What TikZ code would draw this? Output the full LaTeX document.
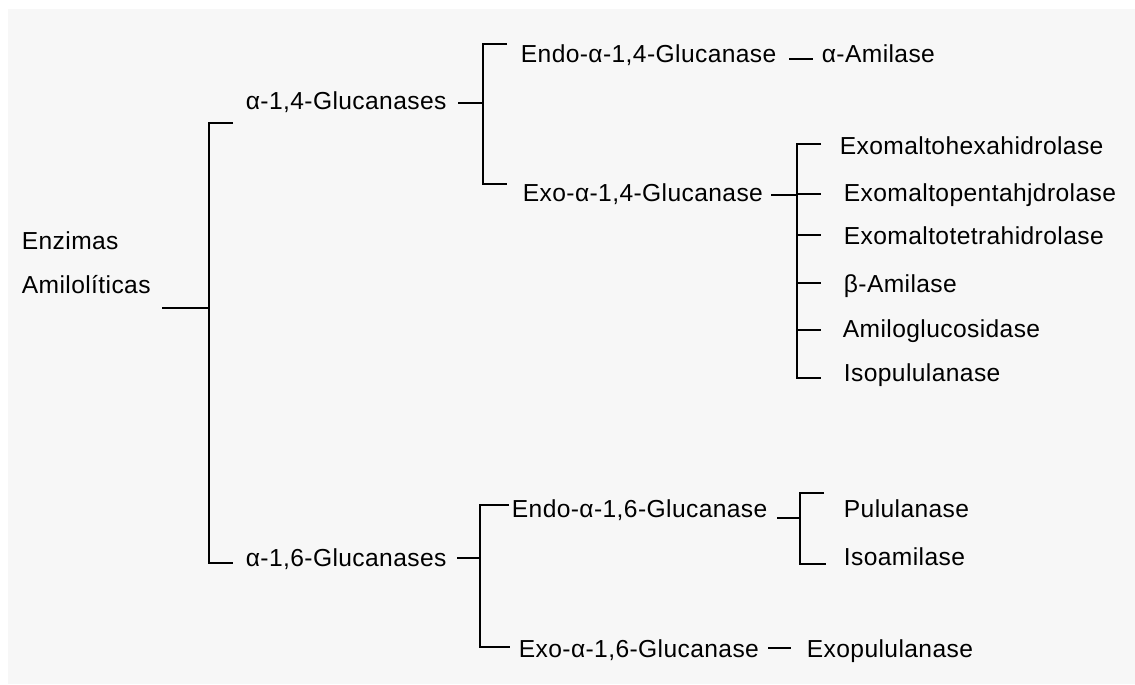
\documentclass[tikz,border=0pt]{standalone}
\usepackage{fontspec}
\setmainfont{Liberation Sans}[LetterSpace=1.6]
\definecolor{bggray}{HTML}{F7F7F7}
\begin{document}
\begin{tikzpicture}[x=0.02cm, y=-0.02cm, line width=1pt,
    enzyme/.style={anchor=base west, inner sep=0pt, font=\fontsize{14}{25}\selectfont, align=left}]
            % Background
            \useasboundingbox (0, 0) rectangle (1135, 684);
            \fill[bggray] (8, 9) rectangle (1135, 684);

            % Names
            \node[enzyme] (root) at (21, 293) {Enzimas\\Amilolíticas};
            \node[enzyme] (a14) at (245, 109) {α-1,4-Glucanases};
            \node[enzyme] (a16) at (245, 566) {α-1,6-Glucanases};
            \node[enzyme] (endo14) at (520, 62) {Endo-α-1,4-Glucanase};
            \node[enzyme] (exo14) at (522, 201) {Exo-α-1,4-Glucanase};
            \node[enzyme] (endo16) at (511, 517) {Endo-α-1,6-Glucanase};
            \node[enzyme] (exo16) at (518, 657) {Exo-α-1,6-Glucanase};
            \node[enzyme] (amyA) at (821, 62) {α-Amilase};
            \node[enzyme] (hexa) at (839, 154) {Exomaltohexahidrolase};
            \node[enzyme] (penta) at (843, 201) {Exomaltopentahjdrolase};
            \node[enzyme] (tetra) at (843, 244) {Exomaltotetrahidrolase};
            \node[enzyme] (amyB) at (843, 292) {β-Amilase};
            \node[enzyme] (amg) at (842, 337) {Amiloglucosidase};
            \node[enzyme] (isopul) at (843, 381) {Isopululanase};
            \node[enzyme] (pulul) at (843, 517) {Pululanase};
            \node[enzyme] (isoam) at (843, 565) {Isoamilase};
            \node[enzyme] (exopul) at (806, 657) {Exopululanase};

            % Connector ends
            \path (162, 308) coordinate (root-out);
            \path (209, 308) coordinate (root-j);
            \path (233, 123) coordinate (a14-in);
            \path (233, 563) coordinate (a16-in);
            \path (458, 103) coordinate (a14-out);
            \path (483, 103) coordinate (a14-j);
            \path (507, 44) coordinate (endo14-in);
            \path (507, 184) coordinate (exo14-in);
            \path (789, 59) coordinate (endo14-out);
            \path (813, 59) coordinate (amyA-in);
            \path (771, 195) coordinate (exo14-out);
            \path (797, 195) coordinate (exo14-j);
            \path (457, 558) coordinate (a16-out);
            \path (480, 558) coordinate (a16-j);
            \path (509, 505) coordinate (endo16-in);
            \path (510, 647) coordinate (exo16-in);
            \path (777, 518) coordinate (endo16-out);
            \path (800, 518) coordinate (endo16-j);
            \path (824, 493) coordinate (pulul-in);
            \path (826, 564) coordinate (isoam-in);
            \path (768, 648) coordinate (exo16-out);
            \path (791, 648) coordinate (exopul-in);

            % Brackets
            \draw (root-out) -- (root-j);
            \draw (a14-in) -| (root-j) |- (a16-in);
            \draw (a14-out) -- (a14-j);
            \draw (endo14-in) -| (a14-j) |- (exo14-in);
            \draw (endo14-out) -- (amyA-in);
            \draw (exo14-out) -- (exo14-j);
            \draw (821, 144) -| (exo14-j) |- (821, 378);
            \foreach \y in {194, 235, 283, 330}
                \draw (exo14-j |- 0, \y) -- (821, \y);
            \draw (a16-out) -- (a16-j);
            \draw (endo16-in) -| (a16-j) |- (exo16-in);
            \draw (endo16-out) -- (endo16-j);
            \draw (pulul-in) -| (endo16-j) |- (isoam-in);
            \draw (exo16-out) -- (exopul-in);
        \end{tikzpicture}
\end{document}
